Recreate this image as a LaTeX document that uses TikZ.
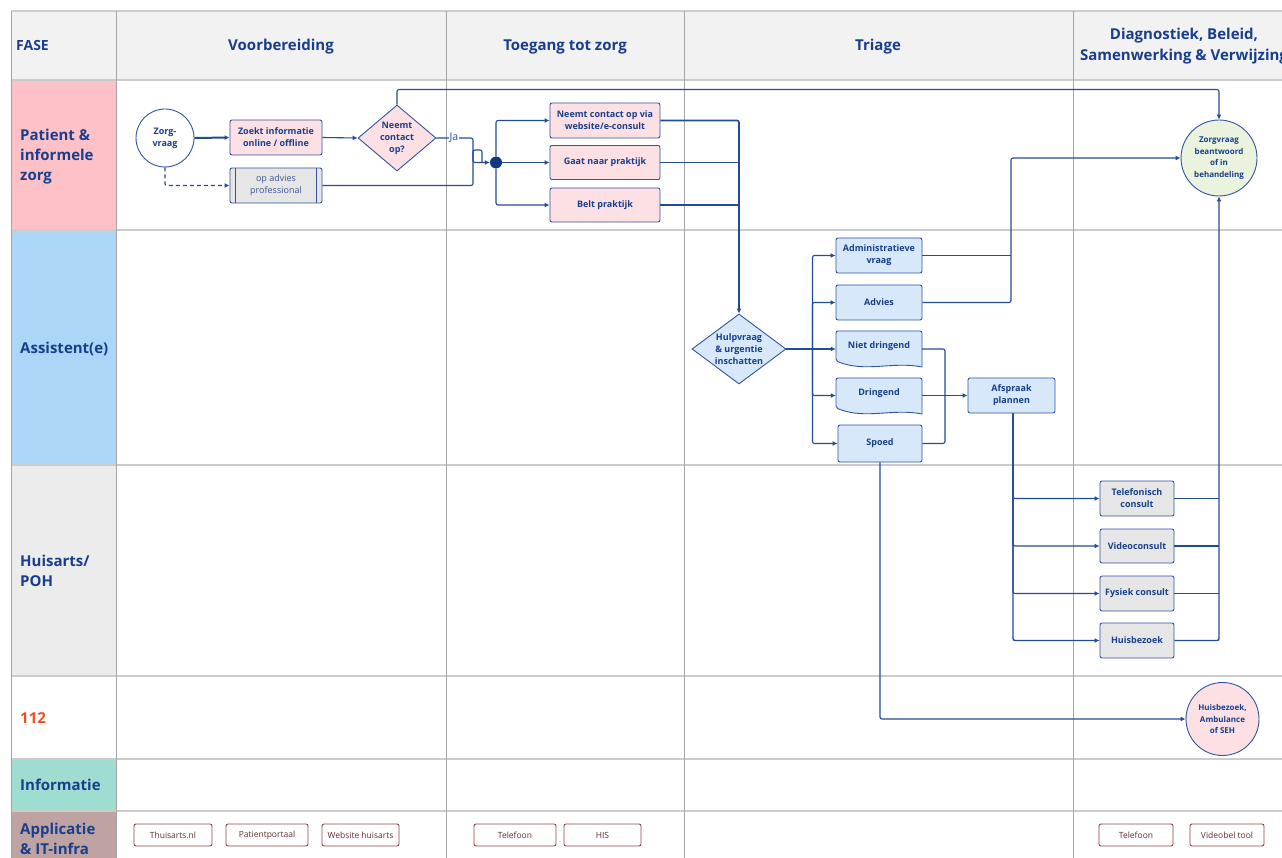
\documentclass[tikz,border=0pt]{standalone}
\usepackage{fontspec}
\setmainfont{Open Sans}
\usetikzlibrary{shapes.geometric,arrows.meta,calc}
\definecolor{tblue}{RGB}{24,62,140}
\definecolor{lcol}{RGB}{35,75,150}
\definecolor{bcol}{RGB}{50,85,160}
\definecolor{pinkfill}{RGB}{252,224,228}
\definecolor{bluefill}{RGB}{214,232,249}
\definecolor{grayfill}{RGB}{230,230,230}
\definecolor{greenfill}{RGB}{234,243,221}
\definecolor{dotcol}{RGB}{20,55,130}
\definecolor{hdrfill}{RGB}{242,242,242}
\definecolor{lpink}{RGB}{255,193,200}
\definecolor{lblue}{RGB}{171,214,247}
\definecolor{lgray}{RGB}{236,236,236}
\definecolor{lteal}{RGB}{159,221,208}
\definecolor{lmauve}{RGB}{191,163,163}
\definecolor{redtxt}{RGB}{240,78,35}
\definecolor{appcol}{RGB}{140,70,70}
\definecolor{apptext}{RGB}{100,45,45}
\definecolor{advtext}{RGB}{60,85,150}
\definecolor{hline}{RGB}{204,204,204}
\definecolor{vline}{RGB}{165,165,165}
\tikzset{
  box/.style={draw=bcol, line width=0.9pt, rounded corners=2pt, align=center,
    font=\fontsize{9}{12}\selectfont\bfseries, text=tblue, inner sep=1pt},
  pinkbox/.style={box, fill=pinkfill},
  bluebox/.style={box, fill=bluefill},
  graybox/.style={box, fill=grayfill},
  docnode/.style={align=center, font=\fontsize{9}{12}\selectfont\bfseries, text=tblue,
    inner sep=1pt, minimum width=86pt, minimum height=30pt},
  docshape/.style={fill=bluefill, draw=bcol, line width=0.9pt, rounded corners=2pt},
  conn/.style={draw=lcol, line width=1.1pt, rounded corners=2pt},
  arr/.style={-{Latex[length=5pt,width=5pt]}},
  app/.style={draw=appcol, line width=0.9pt, rounded corners=2pt, fill=white, text=apptext,
    font=\fontsize{8.5}{10}\selectfont, minimum height=22pt, inner sep=0pt},
  lbl/.style={anchor=west, align=left, font=\fontsize{15}{20}\selectfont\bfseries, text=tblue, inner sep=0pt},
  hdr/.style={align=center, font=\fontsize{15}{21}\selectfont\bfseries, text=tblue},
  hl/.style={draw=hline, line width=1.6pt},
  vl/.style={draw=vline, line width=0.8pt},
}
\begin{document}
\begin{tikzpicture}[x=1pt,y=-1pt]
\useasboundingbox (0,0) rectangle (1282,858);
\clip (0,0) rectangle (1282,858);
% fills
\fill[hdrfill] (11,11) rectangle (1282,80);
\fill[lpink] (11,80) rectangle (116,230);
\fill[lblue] (11,230) rectangle (116,465);
\fill[lgray] (11,465) rectangle (116,676);
\fill[lteal] (11,759) rectangle (116,811);
\fill[lmauve] (11,811) rectangle (116,858);
% grid
\foreach \yy in {11,80,230,465,676,759,811} \draw[hl] (11,\yy) -- (1282,\yy);
\foreach \xx in {11,116,446,684,1073} \draw[vl] (\xx,11) -- (\xx,858);
% headers
\node[lbl, font=\fontsize{14}{17}\selectfont\bfseries] (hfase) at (16,46) {FASE};
\node[hdr] (hvoor) at (281,46.5) {Voorbereiding};
\node[hdr] (htoe) at (565,46.5) {Toegang tot zorg};
\node[hdr] (htri) at (878,46.5) {Triage};
\node[hdr] (hdia) at (1184,46) {Diagnostiek, Beleid,\\Samenwerking \& Verwijzing};
% row labels
\node[lbl] (lpat) at (20,157) {Patient \&\\informele\\zorg};
\node[lbl] (lass) at (20,349) {Assistent(e)};
\node[lbl] (lhuis) at (20,571) {Huisarts/\\POH};
\node[lbl, text=redtxt] (l112) at (20,718) {112};
\node[lbl] (linfo) at (20,785) {Informatie};
\node[lbl] (lapp) at (20,839) {Applicatie\\\& IT-infra};
% nodes row 1
\node[box, circle, fill=white, minimum size=58pt, inner sep=0pt] (zorg) at (165,138) {Zorg-\\vraag};
\node[pinkbox, minimum width=92pt, minimum height=35pt] (zoekt) at (276,137.5) {Zoekt informatie\\online / offline};
\node[graybox, minimum width=92pt, minimum height=35pt, font=\fontsize{9}{12}\selectfont, text=advtext] (advp) at (276,185.5) {op advies\\professional};
\draw[bcol, line width=0.9pt] ([xshift=6pt]advp.north west) -- ([xshift=6pt]advp.south west);
\draw[bcol, line width=0.9pt] ([xshift=-6pt]advp.north east) -- ([xshift=-6pt]advp.south east);
\node[box, diamond, fill=pinkfill, rounded corners=0pt, inner sep=0pt, shape aspect=1.18, minimum width=78pt, minimum height=66pt] (neemt) at (397,138) {Neemt\\contact\\op?};
\node[circle, fill=dotcol, minimum size=12pt, inner sep=0pt] (dot) at (496,162.5) {};
\node[pinkbox, minimum width=110pt, minimum height=35pt] (web) at (605,120.5) {Neemt contact op via\\website/e-consult};
\node[pinkbox, minimum width=110pt, minimum height=34pt] (prak) at (605,162.5) {Gaat naar praktijk};
\node[pinkbox, minimum width=110pt, minimum height=34pt] (belt) at (605,205) {Belt praktijk};
\node[box, circle, fill=greenfill, minimum size=76pt, inner sep=0pt, font=\fontsize{8}{11.5}\selectfont\bfseries] (zorgb) at (1219,158) {Zorgvraag\\beantwoord\\of in\\behandeling};
% row 2
\node[box, diamond, fill=bluefill, rounded corners=0pt, inner sep=0pt, shape aspect=1.34, minimum width=94pt, minimum height=70pt] (hulp) at (739,349) {Hulpvraag\\\& urgentie\\inschatten};
\node[bluebox, minimum width=86pt, minimum height=35pt] (adm) at (879,255.5) {Administratieve\\vraag};
\node[bluebox, minimum width=86pt, minimum height=35pt] (adv) at (879,302.5) {Advies};
\filldraw[docshape] (836,331) -- (836,361) [sharp corners] .. controls +(30,12) and +(-30,-6) .. (922,367) [rounded corners=2pt] -- (922,331) -- cycle;
\node[docnode] (niet) at (879,346) {Niet dringend};
\filldraw[docshape] (836,378) -- (836,408) [sharp corners] .. controls +(30,12) and +(-30,-6) .. (922,414) [rounded corners=2pt] -- (922,378) -- cycle;
\node[docnode] (dring) at (879,393) {Dringend};
\node[bluebox, minimum width=84pt, minimum height=37pt] (spoed) at (880,443.5) {Spoed};
\node[bluebox, minimum width=87pt, minimum height=35pt] (afs) at (1011.5,395.5) {Afspraak\\plannen};
% row 3
\node[graybox, minimum width=74pt, minimum height=35pt] (tel) at (1137,498.5) {Telefonisch\\consult};
\node[graybox, minimum width=74pt, minimum height=34pt] (vid) at (1137,546) {Videoconsult};
\node[graybox, minimum width=74pt, minimum height=35pt] (fys) at (1137,593.5) {Fysiek consult};
\node[graybox, minimum width=74pt, minimum height=35pt] (hb) at (1137,640.5) {Huisbezoek};
% row 112
\node[box, circle, fill=pinkfill, minimum size=73pt, inner sep=0pt, font=\fontsize{8}{11.5}\selectfont\bfseries] (seh) at (1222.5,719) {Huisbezoek,\\Ambulance\\of SEH};
% apps
\node[app, minimum width=78pt] (a1) at (173,835) {Thuisarts.nl};
\node[app, minimum width=82pt] (a2) at (267,835) {Patientportaal};
\node[app, minimum width=77pt] (a3) at (360.5,835) {Website huisarts};
\node[app, minimum width=82pt] (a4) at (515,835) {Telefoon};
\node[app, minimum width=77pt] (a5) at (602.5,835) {HIS};
\node[app, minimum width=74pt] (a6) at (1136,835) {Telefoon};
\node[app, minimum width=74pt] (a7) at (1227,835) {Videobel tool};
% coordinates
\coordinate (br) at ($(hulp.east)+(26,0)$);
\coordinate (c1011) at (1011,158);
\coordinate (nr) at (945,349);
\coordinate (jx) at (473,138);
\coordinate (afb) at ($(afs.south)+(1.5,0)$);
% connectors row 1
\draw[conn, arr, line width=2pt] (zorg.east) -- (zoekt.west);
\draw[conn, arr, dash pattern=on 4pt off 3pt] (zorg.south) |- (advp.west);
\draw[conn, arr] (zoekt.east) -- (neemt.west);
\draw[conn, arr] (neemt.north) -- ++(0,-15) -| (zorgb.north);
\draw[conn, arr] (neemt.east) -- (jx) |- (dot.west);
\draw[conn] (advp.east) -| (473,150) -- (482,150) -- (482,162.5);
\node[fill=white, inner sep=1pt, text=lcol, font=\fontsize{10.5}{11}\selectfont] (ja) at (454,137.5) {Ja};
\draw[conn, arr] (dot) |- (web.west);
\draw[conn, arr] (dot) -- (prak.west);
\draw[conn, arr] (dot) |- (belt.west);
\draw[conn, arr, line width=1.6pt] (web.east) -| (hulp.north);
\draw[conn] (prak.east) -- (prak.east -| hulp.north);
\draw[conn] (belt.east) -- (belt.east -| hulp.north);
% connectors row 2
\draw[conn, line width=2pt] (hulp.east) -- (br);
\draw[conn, arr] (br) |- (adm.west);
\draw[conn, arr] (br) |- (adv.west);
\draw[conn, arr] (br) -- (niet.west |- br);
\draw[conn, arr] (br) |- (dring.west |- afs.west);
\draw[conn, arr] (br) |- (spoed.west);
\draw[conn] (adm.east) -- (adm.east -| c1011);
\draw[conn, arr] (adv.east) -| (c1011) -- (zorgb.west);
\draw[conn] (niet.east |- br) -- (nr) |- (spoed.east);
\draw[conn, arr] (dring.east |- afs.west) -- (afs.west);
% connectors row 3
\draw[conn, arr, line width=1.4pt] (afb) |- (hb.west);
\draw[conn, arr] (afb) |- (tel.west);
\draw[conn, arr] (afb) |- (vid.west);
\draw[conn, arr] (afb) |- (fys.west);
\draw[conn, arr, line width=1.4pt] (hb.east) -| (zorgb.south);
\draw[conn] (tel.east) -- (tel.east -| zorgb.south);
\draw[conn] (vid.east) -- (vid.east -| zorgb.south);
\draw[conn] (fys.east) -- (fys.east -| zorgb.south);
\draw[conn, arr] (spoed.south) |- (seh.west);
\end{tikzpicture}
\end{document}
